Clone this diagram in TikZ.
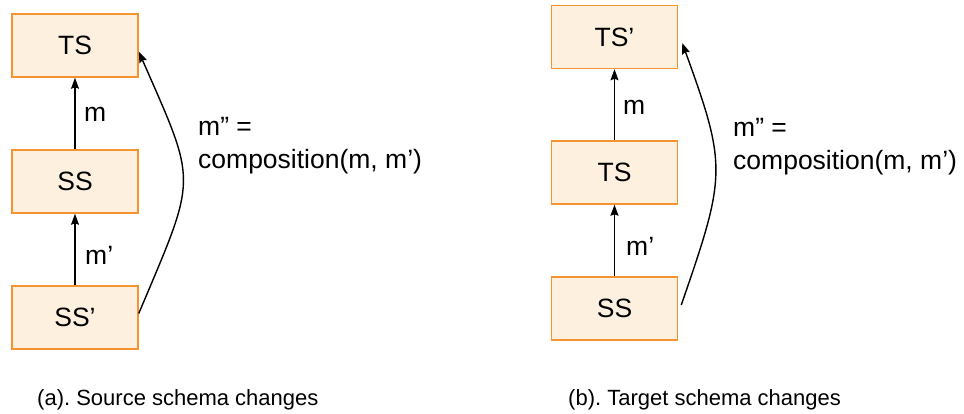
\documentclass[tikz,border=0pt]{standalone}
\usepackage{fontspec}
\setmainfont{Liberation Sans}
\usetikzlibrary{arrows.meta}
\definecolor{boxfill}{HTML}{FEF0DE}
\definecolor{boxline}{HTML}{F59331}
\frenchspacing
\begin{document}
\begin{tikzpicture}[x=1pt,y=-1pt,
  schemabox/.style={draw=boxline,fill=boxfill,line width=1.5pt,minimum width=126pt,minimum height=63pt,inner sep=0pt,font=\fontsize{26.5}{32}\selectfont},
  maplabel/.style={anchor=base west,inner sep=0pt,font=\fontsize{26.5}{32}\selectfont},
  composelabel/.style={anchor=base west,inner sep=0pt,align=left,font=\fontsize{26.5}{33}\selectfont},
  caption/.style={anchor=base west,inner sep=0pt,font=\fontsize{22}{26}\selectfont},
  maparrow/.style={line width=1.4pt,-{Stealth[length=11pt,width=8pt,inset=1.5pt]}}]
\useasboundingbox (0,0) rectangle (964,414);

% (a) source schema changes
\node[schemabox] (ts)  at (75,45.5)  {TS};
\node[schemabox] (ss)  at (75,181.5) {SS};
\node[schemabox] (ssp) at (75,317.5) {SS’};
\draw[maparrow] (ss.north) -- (ts.south);
\draw[maparrow] (ssp.north) -- (ss.south);
\node[maplabel] (ma) at (84,122) {m};
\node[maplabel] (mpa) at (85,265) {m’};
\draw[maparrow] ([yshift=4pt]ssp.east) .. controls +(59,-140) and +(59,135) .. ([yshift=-6pt]ts.east);
\node[composelabel] (ca) at (198,169) {m” =\\composition(m, m’)};
\node[caption] (capa) at (37,405) {(a). Source schema changes};

% (b) target schema changes
\node[schemabox] (tsp) at (614.5,37)    {TS’};
\node[schemabox] (tsb) at (614.5,172.5) {TS};
\node[schemabox] (ssb) at (614.5,308.5) {SS};
\draw[maparrow] (tsb.north) -- (tsp.south);
\draw[maparrow] (ssb.north) -- (tsb.south);
\node[maplabel] (mb) at (623,115) {m};
\node[maplabel] (mpb) at (626,255) {m’};
\draw[maparrow] ([xshift=3pt,yshift=3.5pt]ssb.east) .. controls +(45,-130) and +(45,124) .. ([xshift=4pt,yshift=-6pt]tsp.east);
\node[composelabel] (cb) at (733,170) {m” =\\composition(m, m’)};
\node[caption] (capb) at (568,405) {(b). Target schema changes};
\end{tikzpicture}
\end{document}
